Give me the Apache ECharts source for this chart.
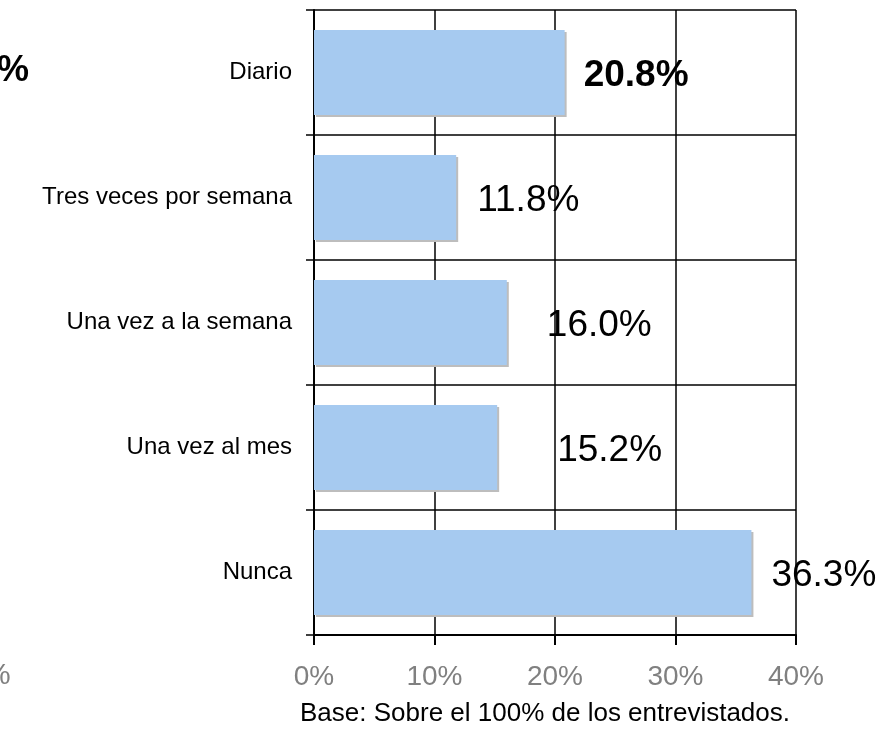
<!DOCTYPE html>
<html>
<head>
<meta charset="utf-8">
<script src="https://cdn.jsdelivr.net/npm/echarts@6/dist/echarts.min.js"></script>
<style>
  html, body { margin: 0; padding: 0; background: #fff; }
  #chart { width: 878px; height: 731px; }
</style>
</head>
<body>
<div id="chart"></div>
<script>
// datos de la figura
const categorias = ['Diario', 'Tres veces por semana', 'Una vez a la semana', 'Una vez al mes', 'Nunca']
const valores = [20.8, 11.8, 16.0, 15.2, 36.3]
const ticksX = [0, 10, 20, 30, 40]

// separacion de cada etiqueta respecto a la barra (estilo)
const separacion = [19, 21, 40, 60, 20]

const fuente = '"Liberation Sans", Arial, sans-serif'
const chart = echarts.init(document.getElementById('chart'))

chart.setOption({
  animation: false,
  textStyle: { fontFamily: fuente },
  grid: { left: 314, right: 82, top: 10, bottom: 96 },
  xAxis: {
    type: 'value',
    min: ticksX[0],
    max: ticksX[ticksX.length - 1],
    interval: 10,
    axisLine: { show: true, onZero: false, lineStyle: { color: '#000', width: 2 } },
    axisTick: { show: true, length: 10, lineStyle: { color: '#000', width: 2 } },
    axisLabel: {
      formatter: '{value}%',
      color: '#808080',
      fontSize: 28,
      margin: 28,
      fontFamily: fuente
    },
    splitLine: { show: true, lineStyle: { color: '#000', width: 1.5 } }
  },
  yAxis: {
    type: 'category',
    inverse: true,
    data: categorias,
    axisLine: { show: true, lineStyle: { color: '#000', width: 2 } },
    axisTick: { show: true, length: 8, lineStyle: { color: '#000', width: 1.5 } },
    axisLabel: { color: '#000', fontSize: 24, margin: 22, fontFamily: fuente },
    splitLine: { show: true, lineStyle: { color: '#000', width: 1.5 } }
  },
  series: [
    {
      type: 'bar',
      barCategoryGap: '32%',
      itemStyle: {
        color: '#A6CAF0',
        shadowColor: '#bdbdbd',
        shadowOffsetX: 2,
        shadowOffsetY: 2,
        shadowBlur: 0
      },
      data: valores.map((v, i) => ({
        value: v,
        label: {
          show: true,
          position: 'right',
          distance: separacion[i],
          offset: [0, 3],
          formatter: p => p.value.toFixed(1) + '%',
          color: '#000',
          fontSize: 37,
          fontWeight: i === 0 ? 'bold' : 'normal',
          fontFamily: fuente
        }
      }))
    }
  ],
  graphic: [
    {
      type: 'text',
      x: 545,
      y: 701,
      style: {
        text: 'Base: Sobre el 100% de los entrevistados.',
        fill: '#000',
        fontSize: 26,
        fontFamily: fuente,
        align: 'center'
      }
    },
    {
      type: 'text',
      x: -3,
      y: 53,
      style: { text: '%', fill: '#000', fontSize: 36, fontWeight: 'bold', fontFamily: fuente }
    },
    {
      type: 'text',
      x: -16,
      y: 661,
      style: { text: '%', fill: '#808080', fontSize: 30, fontFamily: fuente }
    }
  ]
})
</script>
</body>
</html>
